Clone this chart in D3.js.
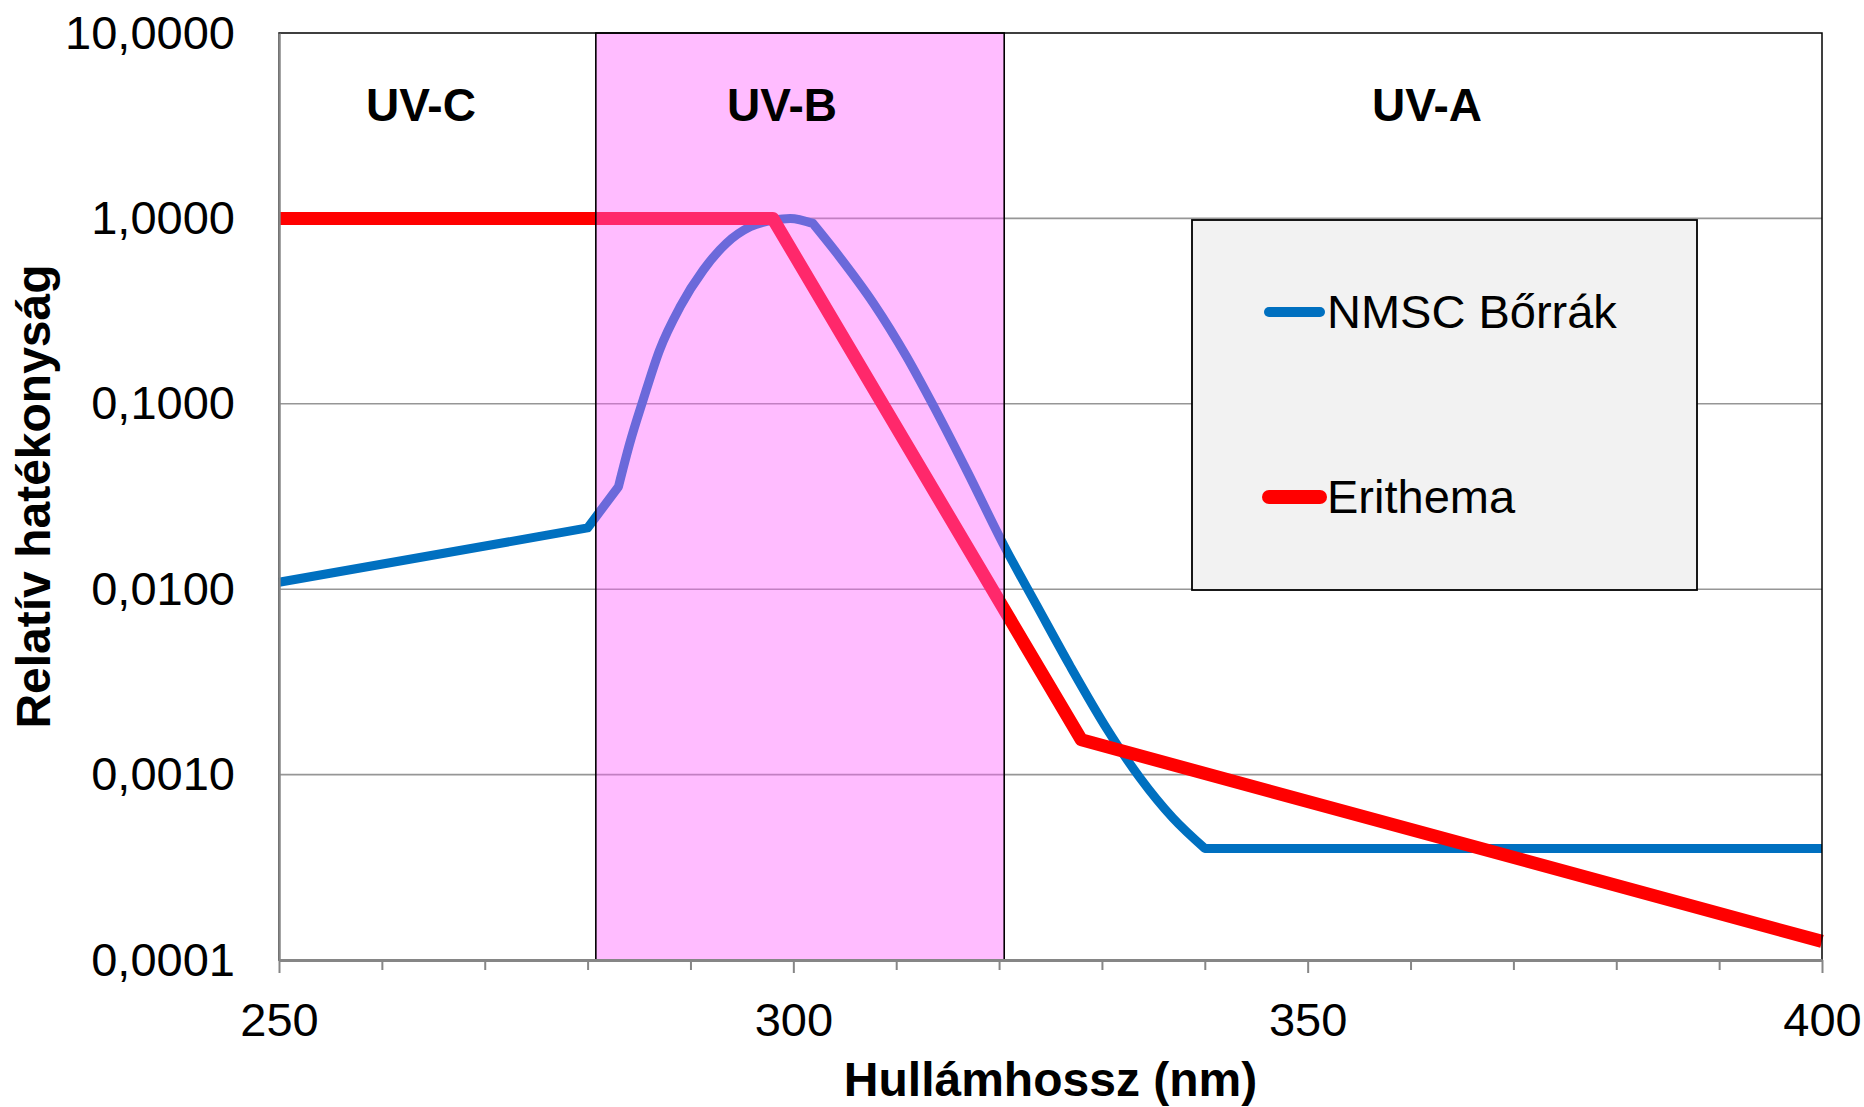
<!DOCTYPE html>
<html>
<head>
<meta charset="utf-8">
<script src="https://cdn.jsdelivr.net/npm/d3@7"></script>
<style>
  body { margin: 0; background: #fff; }
  svg { display: block; }
  text { font-family: "Liberation Sans", Arial, sans-serif; fill: #000; }
</style>
</head>
<body>
<svg id="chart" width="1864" height="1107"></svg>
<script>
// NMSC skin cancer action spectrum
const nmscWave  = [250, 280, 283, 284.1, 285.4, 287, 289, 291.25, 293.5, 295.8, 298.1, 299.7, 301.9,
                   304.5, 307.8, 311, 313.6, 316.9, 320.5, 323.7, 326.9, 330.5, 333.7, 336.9, 340, 400];
const nmscValue = [0.0109, 0.0214, 0.0357, 0.0612, 0.105, 0.195, 0.334, 0.527, 0.735, 0.901, 0.98, 1.0, 0.94,
                   0.62, 0.348, 0.18, 0.098, 0.0432, 0.0171, 0.0081, 0.00386, 0.00176, 0.00096, 0.000583, 0.0004, 0.0004];

// Erythema curve
const eryWave  = [250, 298, 328, 400];
const eryValue = [1, 1, 0.00154, 0.000126];

const seriesNames  = ["NMSC Bőrrák", "Erithema"];
const seriesColors = ["#0070C0", "#FF0000"];

const yTicks     = [0.0001, 0.001, 0.01, 0.1, 1, 10];
const xMajor     = [250, 300, 350, 400];
const xMinor     = [260, 270, 280, 290, 310, 320, 330, 340, 360, 370, 380, 390];

const bandNames  = ["UV-C", "UV-B", "UV-A"];
const bandLabelX = [263.8, 298.9, 361.6];
const uvbRange   = [280.8, 320.5];

const svg = d3.select("#chart");
const plot = { left: 279, right: 1822, top: 33, bottom: 960 };

const x = d3.scaleLinear().domain([250, 400]).range([plot.left, plot.right]);
const y = d3.scaleLog().domain([0.0001, 10]).range([plot.bottom, plot.top]);

const comma = d3.formatLocale({ decimal: ",", thousands: " ", grouping: [3], currency: ["", ""] });
const fmt = comma.format(".4f");

// gridlines
svg.append("g")
  .selectAll("line")
  .data(yTicks.slice(1, -1))
  .join("line")
  .attr("x1", plot.left).attr("x2", plot.right)
  .attr("y1", d => y(d)).attr("y2", d => y(d))
  .attr("stroke", "#969696")
  .attr("stroke-width", 1.6);

// series lines
const straight = d3.line().x(d => x(d[0])).y(d => y(d[1]));
const smooth = d3.line().x(d => x(d[0])).y(d => y(d[1])).curve(d3.curveMonotoneX);

const nmsc = d3.zip(nmscWave, nmscValue);
const n = nmsc.length;
const peak = nmscWave.indexOf(301.9);
// corners at 280/283, ~302 and 340 nm, smooth in between
const nmscPath = straight(nmsc.slice(0, 3))
  + smooth(nmsc.slice(2, peak + 1)).replace(/^M/, "L")
  + smooth(nmsc.slice(peak, n - 1)).replace(/^M/, "L")
  + straight(nmsc.slice(n - 2)).replace(/^M/, "L");

const paths = [nmscPath, straight(d3.zip(eryWave, eryValue))];
const widths = [9, 13];
paths.forEach((p, i) => {
  svg.append("path")
    .attr("d", p)
    .attr("fill", "none")
    .attr("stroke", seriesColors[i])
    .attr("stroke-width", widths[i])
    .attr("stroke-linejoin", "round");
});

// UV-B band, semi transparent on top of the lines
svg.append("rect")
  .attr("x", x(uvbRange[0]))
  .attr("y", plot.top)
  .attr("width", x(uvbRange[1]) - x(uvbRange[0]))
  .attr("height", plot.bottom - plot.top)
  .attr("fill", "rgb(255,96,255)")
  .attr("fill-opacity", 0.42)
  .attr("stroke", "#000")
  .attr("stroke-width", 1.6);

// plot border
svg.append("rect")
  .attr("x", plot.left).attr("y", plot.top)
  .attr("width", plot.right - plot.left).attr("height", plot.bottom - plot.top)
  .attr("fill", "none")
  .attr("stroke", "#000")
  .attr("stroke-width", 1.5);

// y axis
const yAxis = svg.append("g")
  .attr("transform", `translate(${plot.left},0)`)
  .call(d3.axisLeft(y).tickValues(yTicks).tickFormat(fmt).tickSize(0).tickPadding(44));
yAxis.select(".domain").attr("stroke", "#868686").attr("stroke-width", 2.5);
yAxis.selectAll("text").attr("font-size", 47).attr("font-family", "Liberation Sans, Arial, sans-serif");

// x axis, minor ticks
const xMinorAxis = svg.append("g")
  .attr("transform", `translate(0,${plot.bottom})`)
  .call(d3.axisBottom(x).tickValues(xMinor).tickFormat("").tickSize(10).tickSizeOuter(0));
xMinorAxis.select(".domain").remove();
xMinorAxis.selectAll("line").attr("stroke", "#868686").attr("stroke-width", 2);

// x axis, major ticks with labels
const xAxis = svg.append("g")
  .attr("transform", `translate(0,${plot.bottom})`)
  .call(d3.axisBottom(x).tickValues(xMajor).tickFormat(d3.format("d")).tickSize(13).tickSizeOuter(0).tickPadding(30));
xAxis.select(".domain").attr("stroke", "#868686").attr("stroke-width", 3);
xAxis.selectAll("line").attr("stroke", "#868686").attr("stroke-width", 2);
xAxis.selectAll("text").attr("font-size", 47).attr("font-family", "Liberation Sans, Arial, sans-serif");

// band labels
svg.append("g")
  .selectAll("text")
  .data(bandNames)
  .join("text")
  .attr("x", (d, i) => x(bandLabelX[i]))
  .attr("y", 121)
  .attr("text-anchor", "middle")
  .attr("font-size", 46)
  .attr("font-weight", "bold")
  .text(d => d);

// axis titles
svg.append("text")
  .attr("x", (plot.left + plot.right) / 2)
  .attr("y", 1096)
  .attr("text-anchor", "middle")
  .attr("font-size", 48)
  .attr("font-weight", "bold")
  .text("Hullámhossz (nm)");

svg.append("text")
  .attr("transform", `translate(50,${(plot.top + plot.bottom) / 2}) rotate(-90)`)
  .attr("text-anchor", "middle")
  .attr("font-size", 48)
  .attr("font-weight", "bold")
  .text("Relatív hatékonyság");

// legend
const legend = svg.append("g");
legend.append("rect")
  .attr("x", 1192).attr("y", 220)
  .attr("width", 505).attr("height", 370)
  .attr("fill", "#F2F2F2")
  .attr("stroke", "#000")
  .attr("stroke-width", 1.8);

const legendY = [312, 497];
seriesNames.forEach((name, i) => {
  legend.append("line")
    .attr("x1", 1269).attr("x2", 1320)
    .attr("y1", legendY[i]).attr("y2", legendY[i])
    .attr("stroke", seriesColors[i])
    .attr("stroke-width", widths[i] + 1)
    .attr("stroke-linecap", "round");
  legend.append("text")
    .attr("x", 1327)
    .attr("y", legendY[i])
    .attr("dy", "0.35em")
    .attr("font-size", 47)
    .text(name);
});
</script>
</body>
</html>
